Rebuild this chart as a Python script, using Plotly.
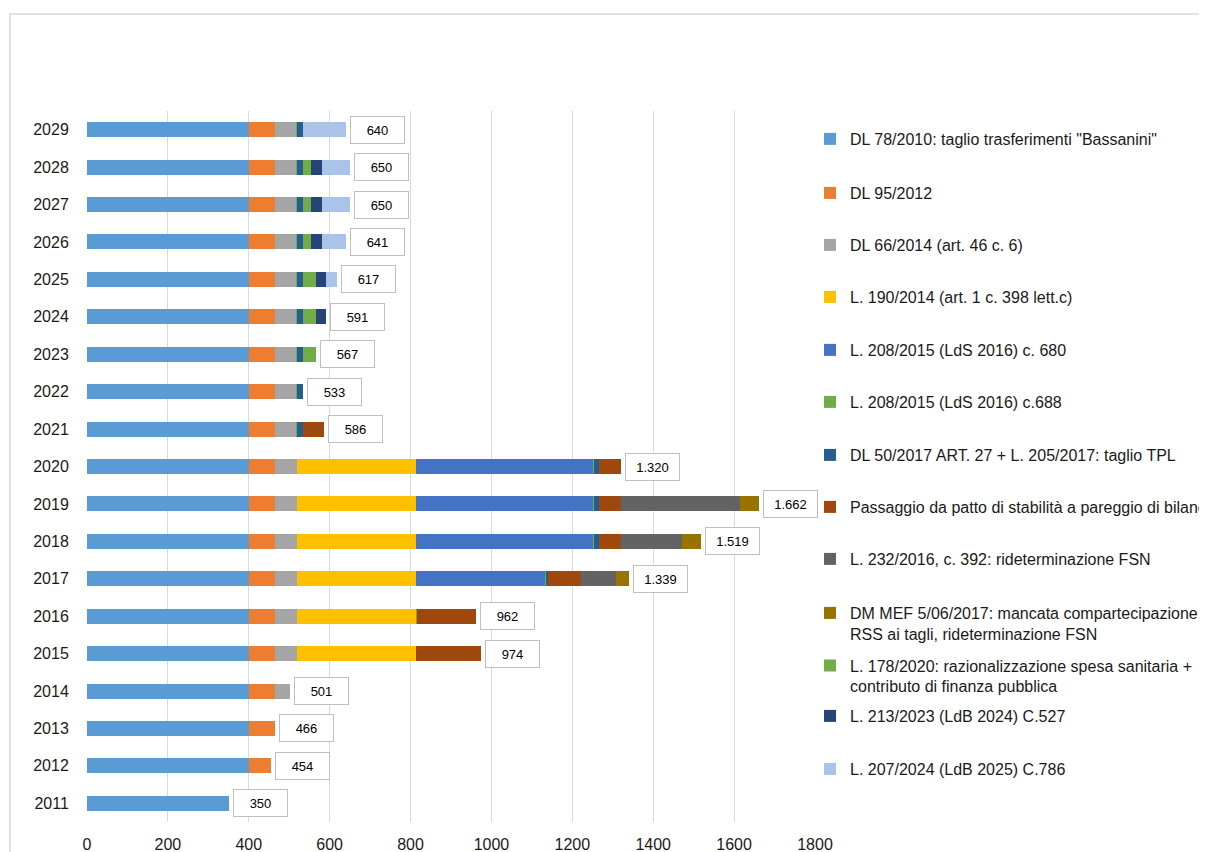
import plotly.graph_objects as go

years = [str(y) for y in range(2011, 2030)]

# values per year 2011..2029
dl78 =      [350, 400, 400, 400, 400, 400, 400, 400, 400, 400, 400, 400, 400, 400, 400, 400, 400, 400, 400]
dl95 =      [0,   54,  66,  66,  66,  66,  66,  66,  66,  66,  66,  66,  66,  66,  66,  66,  66,  66,  66]
dl66 =      [0,   0,   0,   35,  52,  52,  52,  52,  52,  52,  52,  52,  52,  52,  52,  52,  52,  52,  52]
l190 =      [0,   0,   0,   0,   296, 296, 296, 296, 296, 296, 0,   0,   0,   0,   0,   0,   0,   0,   0]
l208_680 =  [0,   0,   0,   0,   0,   0,   320, 438, 438, 438, 0,   0,   0,   0,   0,   0,   0,   0,   0]
l208_688 =  [0,   0,   0,   0,   0,   2,   2,   2,   2,   2,   2,   2,   2,   2,   2,   2,   2,   2,   2]
dl50 =      [0,   0,   0,   0,   0,   0,   3,   13,  13,  13,  13,  13,  13,  13,  13,  13,  13,  13,  13]
passaggio = [0,   0,   0,   0,   160, 146, 83,  53,  53,  53,  53,  0,   0,   0,   0,   0,   0,   0,   0]
l232 =      [0,   0,   0,   0,   0,   0,   85,  150, 295, 0,   0,   0,   0,   0,   0,   0,   0,   0,   0]
dmmef =     [0,   0,   0,   0,   0,   0,   32,  49,  47,  0,   0,   0,   0,   0,   0,   0,   0,   0,   0]
l178 =      [0,   0,   0,   0,   0,   0,   0,   0,   0,   0,   0,   0,   34,  34,  34,  20,  20,  20,  0]
l213 =      [0,   0,   0,   0,   0,   0,   0,   0,   0,   0,   0,   0,   0,   24,  24,  27,  27,  27,  0]
l207 =      [0,   0,   0,   0,   0,   0,   0,   0,   0,   0,   0,   0,   0,   0,   26,  61,  70,  70,  107]

series_names = [
    'DL 78/2010: taglio trasferimenti "Bassanini"',
    'DL 95/2012',
    'DL 66/2014 (art. 46 c. 6)',
    'L. 190/2014 (art. 1 c. 398 lett.c)',
    'L. 208/2015 (LdS 2016) c. 680',
    'L. 208/2015 (LdS 2016) c.688',
    'DL 50/2017 ART. 27 + L. 205/2017: taglio TPL',
    'Passaggio da patto di stabilità a pareggio di bilancio',
    'L. 232/2016, c. 392: rideterminazione FSN',
    'DM MEF 5/06/2017: mancata compartecipazione<br>RSS ai tagli, rideterminazione FSN',
    'L. 178/2020: razionalizzazione spesa sanitaria +<br>contributo di finanza pubblica',
    'L. 213/2023 (LdB 2024) C.527',
    'L. 207/2024 (LdB 2025) C.786',
]
series_values = [dl78, dl95, dl66, l190, l208_680, l208_688, dl50, passaggio,
                 l232, dmmef, l178, l213, l207]
colors = ['#5B9BD5', '#ED7D31', '#A5A5A5', '#FFC000', '#4472C4', '#70AD47',
          '#255E91', '#9E480E', '#636363', '#997300', '#70AD47', '#264478', '#A9C4E8']
# legend item centre (pixel rows in the page)
legend_rows = [139, 193, 245, 297, 350, 402, 455, 507, 559, 623.5, 676, 716, 769]

FONT = 'Liberation Sans, Arial, sans-serif'
OFF = 8                      # default page body margin of the html page
W, H = 1207 - OFF, 852 - OFF
# plot area in page pixels: x 87..815, y 111..822
L, R, T, B = 87 - OFF, 1207 - 815, 111 - OFF, 852 - 822
PW, PH = W - L - R, H - T - B


def px_x(p):
    return (p - OFF - L) / PW


def px_y(p):
    return (H - B - (p - OFF)) / PH


fig = go.Figure()
for i, (name, vals, col) in enumerate(zip(series_names, series_values, colors)):
    lg = 'legend' if i == 0 else f'legend{i + 1}'
    fig.add_trace(go.Bar(
        y=years, x=[v if v else None for v in vals], orientation='h',
        name=name, marker=dict(color=col, line=dict(width=0)),
        legend=lg, hoverinfo='x+name',
    ))

totals = [sum(s[k] for s in series_values) for k in range(len(years))]


def fmt(v):
    return f'{v:,}'.replace(',', '.')


for k, tot in enumerate(totals):
    fig.add_annotation(
        x=tot, y=k, xref='x', yref='y', text=fmt(tot), showarrow=False,
        xanchor='left', xshift=4, width=47, height=20, borderpad=3,
        bordercolor='#BFBFBF', borderwidth=1, bgcolor='white',
        font=dict(family=FONT, size=13, color='#000000'),
    )

layout_legends = {}
for i, row in enumerate(legend_rows):
    key = 'legend' if i == 0 else f'legend{i + 1}'
    layout_legends[key] = dict(
        x=px_x(810), y=px_y(row), xanchor='left', yanchor='middle',
        font=dict(family=FONT, size=16, color='#1a1a1a'),
        bgcolor='rgba(0,0,0,0)', borderwidth=0, valign='top', itemwidth=30,
    )

fig.update_layout(
    width=W, height=H,
    margin=dict(l=L, r=R, t=T, b=B, pad=0, autoexpand=False),
    barmode='stack', bargap=0.6,
    plot_bgcolor='white', paper_bgcolor='white',
    font=dict(family=FONT, size=16, color='#1a1a1a'),
    showlegend=True,
    xaxis=dict(range=[0, 1800], dtick=200, showgrid=True, gridcolor='#D9D9D9',
               gridwidth=1, zeroline=False, showline=False, ticks='outside',
               ticklen=8, tickcolor='rgba(0,0,0,0)', automargin=False,
               tickfont=dict(family=FONT, size=16, color='#1a1a1a')),
    yaxis=dict(type='category', categoryorder='array', categoryarray=years,
               range=[-0.5, len(years) - 0.5], autorange=False,
               showgrid=False, zeroline=False, showline=False, ticks='outside',
               ticklen=14, tickcolor='rgba(0,0,0,0)', automargin=False,
               tickfont=dict(family=FONT, size=16, color='#1a1a1a')),
    **layout_legends,
)

# outer chart-area border (light grey frame)
fig.add_shape(type='rect', xref='paper', yref='paper',
              x0=px_x(10), x1=px_x(1230), y0=px_y(880), y1=px_y(14),
              line=dict(color='#D9D9D9', width=1.5), fillcolor='rgba(0,0,0,0)',
              layer='below')

fig.write_html('out.html')
